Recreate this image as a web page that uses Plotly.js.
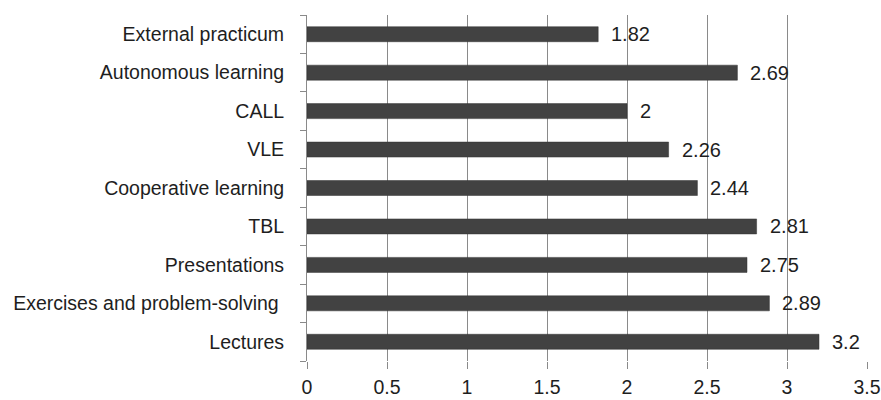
<!DOCTYPE html>
<html>
<head>
<meta charset="utf-8">
<script src="https://cdn.plot.ly/plotly-3.0.1.min.js"></script>
<style>
  html, body { margin: 0; padding: 0; background: #fff; }
  #chart { width: 881px; height: 400px; }
</style>
</head>
<body>
<div id="chart"></div>
<script>
// Mean rating per teaching method (bottom to top)
const methods = [
  "Lectures",
  "Exercises and problem-solving\u00a0",
  "Presentations",
  "TBL",
  "Cooperative learning",
  "VLE",
  "CALL",
  "Autonomous learning",
  "External practicum"
];
const scores = [3.2, 2.89, 2.75, 2.81, 2.44, 2.26, 2, 2.69, 1.82];
const scoreLabels = ["3.2", "2.89", "2.75", "2.81", "2.44", "2.26", "2", "2.69", "1.82"];
const xTicks = [0, 0.5, 1, 1.5, 2, 2.5, 3, 3.5];
const xTickText = ["0", "0.5", "1", "1.5", "2", "2.5", "3", "3.5"];

const fam = "Liberation Sans, Arial, sans-serif";

const bars = {
  type: "bar",
  orientation: "h",
  y: methods,
  x: scores,
  marker: { color: "#424242", line: { color: "#333", width: 0.5 } },
  hoverinfo: "skip"
};

const labels = methods.map((m, i) => ({
  x: scores[i],
  y: m,
  xref: "x",
  yref: "y",
  text: scoreLabels[i],
  showarrow: false,
  xanchor: "left",
  yanchor: "middle",
  xshift: 11,
  font: { family: fam, size: 20, color: "#1e1e1e" }
}));

const layout = {
  width: 881,
  height: 400,
  margin: { l: 307, r: 14, t: 15, b: 39 },
  paper_bgcolor: "#fff",
  plot_bgcolor: "#fff",
  font: { family: fam, size: 19.5, color: "#1e1e1e" },
  showlegend: false,
  bargap: 0.61,
  xaxis: {
    range: [0, 3.5],
    tickvals: xTicks,
    ticktext: xTickText,
    showgrid: true,
    gridcolor: "#8a8a8a",
    gridwidth: 1,
    zeroline: false,
    showline: false,
    ticks: "outside",
    ticklen: 7,
    tickcolor: "#8a8a8a",
    ticklabelstandoff: 2,
    tickfont: { family: fam, size: 19.5, color: "#1e1e1e" },
    fixedrange: true
  },
  yaxis: {
    type: "category",
    showgrid: false,
    zeroline: false,
    showline: true,
    linecolor: "#8a8a8a",
    linewidth: 1,
    ticks: "outside",
    tickson: "boundaries",
    ticklen: 6,
    tickcolor: "#8a8a8a",
    ticklabelstandoff: 18,
    tickfont: { family: fam, size: 19.5, color: "#1e1e1e" },
    fixedrange: true
  },
  annotations: labels
};

Plotly.newPlot("chart", [bars], layout, { displayModeBar: false, staticPlot: true });
</script>
</body>
</html>
